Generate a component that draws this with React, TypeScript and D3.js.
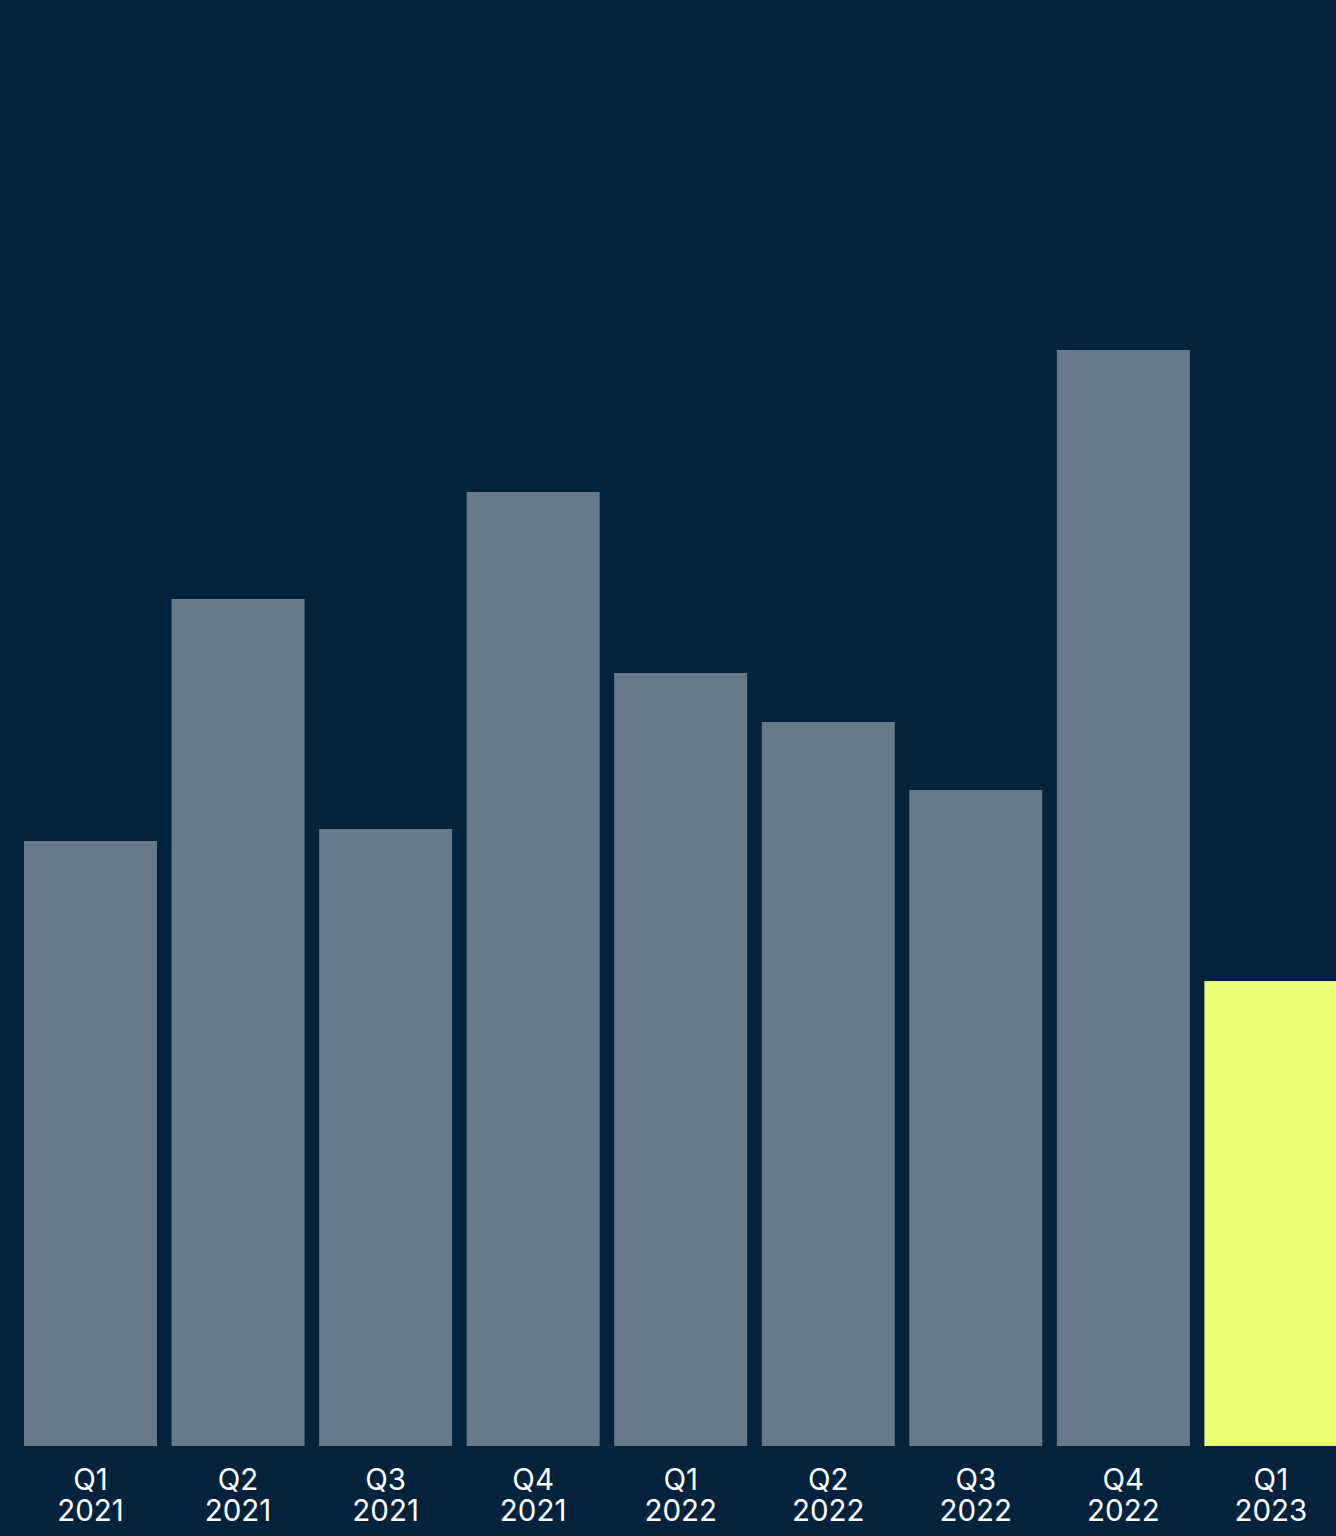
import React from "react";
import * as d3 from "d3";

const quarters = ["Q1", "Q2", "Q3", "Q4", "Q1", "Q2", "Q3", "Q4", "Q1"];
const years = ["2021", "2021", "2021", "2021", "2022", "2022", "2022", "2022", "2023"];
const values = [605, 847, 617, 954, 773, 724, 656, 1096, 465];
const highlight = [false, false, false, false, false, false, false, false, true];

const W = 1336;
const H = 1536;
const BASE = 1446;

export default function App() {
  const keys = quarters.map((q, i) => `${q} ${years[i]}`);
  const x = d3
    .scaleBand<string>()
    .domain(keys)
    .range([24, 1337.4])
    .paddingInner(0.0986)
    .paddingOuter(0);
  const y = d3.scaleLinear().domain([0, BASE]).range([BASE, 0]);

  return (
    <svg
      width={W}
      height={H}
      style={{ position: "absolute", left: 0, top: 0, display: "block" }}
    >
      <rect x={0} y={0} width={W} height={H} fill="#03233d" />
      {keys.map((k, i) => (
        <rect
          key={k}
          x={x(k)}
          y={y(values[i])}
          width={x.bandwidth()}
          height={y(0) - y(values[i])}
          fill={highlight[i] ? "#ebff75" : "#687a89"}
        />
      ))}
      {keys.map((k, i) => {
        const cx = (x(k) as number) + x.bandwidth() / 2;
        return (
          <g key={"t" + k}>
            <text
              x={cx}
              y={1490}
              textAnchor="middle"
              fill="#ffffff"
              fontFamily="Inter, 'Noto Sans', sans-serif"
              fontSize={29.5}
              fontWeight={400}
            >
              {quarters[i]}
            </text>
            <text
              x={cx}
              y={1521}
              textAnchor="middle"
              fill="#ffffff"
              fontFamily="Inter, 'Noto Sans', sans-serif"
              fontSize={29.5}
              fontWeight={400}
            >
              {years[i]}
            </text>
          </g>
        );
      })}
    </svg>
  );
}
